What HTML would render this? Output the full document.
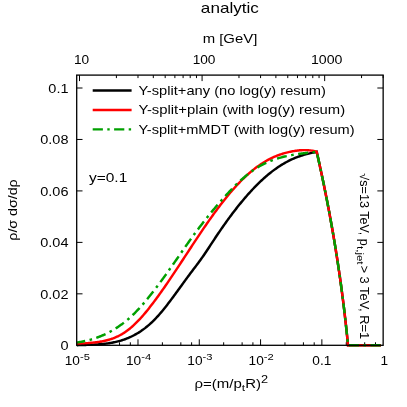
<!DOCTYPE html>
<html><head><meta charset="utf-8"><title>analytic</title>
<style>html,body{margin:0;padding:0;background:#fff;}svg{display:block;}</style>
</head><body>
<svg width="407" height="407" viewBox="0 0 407 407">
<rect x="0" y="0" width="407" height="407" fill="#fff"/>
<path d="M101.09,345.30 v-3 M119.54,345.30 v-3 M130.33,345.30 v-3 M137.99,345.30 v-6 M162.38,345.30 v-3 M180.83,345.30 v-3 M191.62,345.30 v-3 M199.28,345.30 v-6 M223.67,345.30 v-3 M242.12,345.30 v-3 M252.91,345.30 v-3 M260.57,345.30 v-6 M284.96,345.30 v-3 M303.41,345.30 v-3 M314.20,345.30 v-3 M321.86,345.30 v-6 M346.25,345.30 v-3 M364.70,345.30 v-3 M375.49,345.30 v-3 M79.50,75.10 v6 M202.08,75.10 v6 M324.66,75.10 v6 M116.40,75.10 v3 M137.99,75.10 v3 M153.30,75.10 v3 M165.18,75.10 v3 M174.89,75.10 v3 M183.10,75.10 v3 M190.21,75.10 v3 M196.48,75.10 v3 M238.98,75.10 v3 M260.57,75.10 v3 M275.88,75.10 v3 M287.76,75.10 v3 M297.47,75.10 v3 M305.68,75.10 v3 M312.79,75.10 v3 M319.06,75.10 v3 M361.56,75.10 v3 M383.15,75.10 v3 M76.70,293.84 h5.8 M383.15,293.84 h-5.8 M76.70,242.38 h5.8 M383.15,242.38 h-5.8 M76.70,190.92 h5.8 M383.15,190.92 h-5.8 M76.70,139.46 h5.8 M383.15,139.46 h-5.8 M76.70,88.00 h5.8 M383.15,88.00 h-5.8" stroke="#000" stroke-width="1" fill="none"/>
<g fill="none" stroke-linejoin="miter" stroke-miterlimit="10" stroke-linecap="butt" stroke-width="2.45">
<path d="M76.80,345.23 L77.80,345.19 L78.81,345.15 L79.81,345.11 L80.82,345.08 L81.82,345.04 L82.82,345.01 L83.83,344.98 L84.83,344.95 L85.83,344.92 L86.84,344.88 L87.84,344.85 L88.85,344.82 L89.85,344.78 L90.85,344.74 L91.86,344.70 L92.86,344.66 L93.86,344.61 L94.87,344.56 L95.87,344.50 L96.88,344.44 L97.88,344.38 L98.88,344.31 L99.89,344.23 L100.89,344.15 L101.89,344.06 L102.90,343.96 L103.90,343.86 L104.91,343.75 L105.91,343.63 L106.91,343.50 L107.92,343.36 L108.92,343.22 L109.92,343.06 L110.93,342.89 L111.93,342.71 L112.94,342.52 L113.94,342.32 L114.94,342.11 L115.95,341.88 L116.95,341.65 L117.95,341.40 L118.96,341.13 L119.96,340.85 L120.97,340.56 L121.97,340.25 L122.97,339.93 L123.98,339.59 L124.98,339.23 L125.98,338.86 L126.99,338.47 L127.99,338.06 L129.00,337.64 L130.00,337.20 L131.00,336.74 L132.01,336.26 L133.01,335.76 L134.01,335.24 L135.02,334.70 L136.02,334.14 L137.03,333.56 L138.03,332.96 L139.03,332.34 L140.04,331.69 L141.04,331.03 L142.04,330.33 L143.05,329.62 L144.05,328.88 L145.06,328.12 L146.06,327.33 L147.06,326.52 L148.07,325.68 L149.07,324.82 L150.07,323.93 L151.08,323.01 L152.08,322.06 L153.09,321.09 L154.09,320.09 L155.09,319.07 L156.10,318.01 L157.10,316.93 L158.11,315.82 L159.11,314.69 L160.11,313.54 L161.12,312.36 L162.12,311.17 L163.12,309.95 L164.13,308.72 L165.13,307.46 L166.14,306.20 L167.14,304.91 L168.14,303.61 L169.15,302.30 L170.15,300.98 L171.15,299.64 L172.16,298.30 L173.16,296.94 L174.17,295.58 L175.17,294.21 L176.17,292.84 L177.18,291.46 L178.18,290.07 L179.18,288.69 L180.19,287.30 L181.19,285.91 L182.20,284.53 L183.20,283.14 L184.20,281.76 L185.21,280.38 L186.21,279.01 L187.21,277.64 L188.22,276.28 L189.22,274.93 L190.23,273.59 L191.23,272.25 L192.23,270.93 L193.24,269.60 L194.24,268.28 L195.24,266.96 L196.25,265.63 L197.25,264.29 L198.26,262.95 L199.26,261.58 L200.26,260.21 L201.27,258.81 L202.27,257.39 L203.27,255.95 L204.28,254.49 L205.28,253.01 L206.29,251.51 L207.29,250.00 L208.29,248.48 L209.30,246.96 L210.30,245.43 L211.30,243.89 L212.31,242.36 L213.31,240.83 L214.32,239.31 L215.32,237.79 L216.32,236.28 L217.33,234.78 L218.33,233.30 L219.33,231.82 L220.34,230.35 L221.34,228.90 L222.35,227.45 L223.35,226.02 L224.35,224.59 L225.36,223.18 L226.36,221.78 L227.36,220.39 L228.37,219.00 L229.37,217.64 L230.38,216.28 L231.38,214.93 L232.38,213.60 L233.39,212.28 L234.39,210.97 L235.39,209.67 L236.40,208.38 L237.40,207.11 L238.41,205.84 L239.41,204.60 L240.41,203.36 L241.42,202.13 L242.42,200.92 L243.43,199.73 L244.43,198.54 L245.43,197.37 L246.44,196.21 L247.44,195.06 L248.44,193.93 L249.45,192.81 L250.45,191.71 L251.46,190.62 L252.46,189.54 L253.46,188.48 L254.47,187.43 L255.47,186.40 L256.47,185.38 L257.48,184.37 L258.48,183.38 L259.49,182.41 L260.49,181.45 L261.49,180.50 L262.50,179.57 L263.50,178.65 L264.50,177.75 L265.51,176.87 L266.51,176.00 L267.52,175.15 L268.52,174.31 L269.52,173.49 L270.53,172.68 L271.53,171.90 L272.53,171.12 L273.54,170.37 L274.54,169.63 L275.55,168.90 L276.55,168.20 L277.55,167.51 L278.56,166.83 L279.56,166.18 L280.56,165.54 L281.57,164.91 L282.57,164.30 L283.58,163.71 L284.58,163.13 L285.58,162.56 L286.59,162.01 L287.59,161.47 L288.59,160.95 L289.60,160.44 L290.60,159.94 L291.61,159.46 L292.61,158.99 L293.61,158.54 L294.62,158.11 L295.62,157.70 L296.62,157.31 L297.63,156.93 L298.63,156.57 L299.64,156.22 L300.64,155.88 L301.64,155.56 L302.65,155.25 L303.65,154.95 L304.65,154.66 L305.66,154.39 L306.66,154.12 L307.67,153.86 L308.67,153.61 L309.67,153.37 L310.68,153.13 L311.68,152.90 L312.68,152.67 L313.69,152.45 L314.69,152.23 L315.70,152.01 L316.70,151.80 L317.44,155.08 L318.18,158.36 L318.91,161.64 L319.63,164.92 L320.35,168.20 L321.05,171.48 L321.75,174.76 L322.45,178.04 L323.13,181.32 L323.81,184.60 L324.48,187.88 L325.14,191.16 L325.80,194.44 L326.45,197.72 L327.09,200.99 L327.72,204.27 L328.35,207.55 L328.97,210.83 L329.58,214.11 L330.18,217.39 L330.78,220.67 L331.37,223.95 L331.95,227.23 L332.53,230.51 L333.09,233.79 L333.65,237.07 L334.21,240.35 L334.75,243.63 L335.29,246.91 L335.82,250.19 L336.34,253.47 L336.86,256.75 L337.37,260.03 L337.87,263.31 L338.36,266.59 L338.85,269.87 L339.33,273.15 L339.80,276.43 L340.26,279.71 L340.72,282.99 L341.17,286.27 L341.61,289.55 L342.05,292.83 L342.47,296.11 L342.89,299.38 L343.31,302.66 L343.71,305.94 L344.11,309.22 L344.50,312.50 L344.88,315.78 L345.26,319.06 L345.63,322.34 L345.99,325.62 L346.34,328.90 L346.69,332.18 L347.03,335.46 L347.36,338.74 L347.68,342.02 L348.00,345.30 L381.00,345.30" stroke="#000"/>
<path d="M76.80,344.13 L77.80,344.02 L78.81,343.91 L79.81,343.81 L80.82,343.72 L81.82,343.63 L82.82,343.54 L83.83,343.45 L84.83,343.37 L85.83,343.28 L86.84,343.20 L87.84,343.11 L88.85,343.02 L89.85,342.93 L90.85,342.84 L91.86,342.74 L92.86,342.64 L93.86,342.54 L94.87,342.42 L95.87,342.30 L96.88,342.17 L97.88,342.04 L98.88,341.89 L99.89,341.73 L100.89,341.56 L101.89,341.38 L102.90,341.19 L103.90,340.99 L104.91,340.77 L105.91,340.53 L106.91,340.28 L107.92,340.01 L108.92,339.73 L109.92,339.43 L110.93,339.11 L111.93,338.77 L112.94,338.41 L113.94,338.02 L114.94,337.62 L115.95,337.19 L116.95,336.74 L117.95,336.27 L118.96,335.77 L119.96,335.25 L120.97,334.70 L121.97,334.12 L122.97,333.51 L123.98,332.88 L124.98,332.21 L125.98,331.52 L126.99,330.79 L127.99,330.04 L129.00,329.25 L130.00,328.44 L131.00,327.60 L132.01,326.73 L133.01,325.83 L134.01,324.91 L135.02,323.96 L136.02,322.98 L137.03,321.98 L138.03,320.95 L139.03,319.90 L140.04,318.83 L141.04,317.73 L142.04,316.60 L143.05,315.46 L144.05,314.29 L145.06,313.10 L146.06,311.89 L147.06,310.66 L148.07,309.41 L149.07,308.15 L150.07,306.87 L151.08,305.58 L152.08,304.27 L153.09,302.95 L154.09,301.62 L155.09,300.27 L156.10,298.92 L157.10,297.55 L158.11,296.17 L159.11,294.78 L160.11,293.38 L161.12,291.97 L162.12,290.55 L163.12,289.13 L164.13,287.69 L165.13,286.24 L166.14,284.79 L167.14,283.33 L168.14,281.86 L169.15,280.38 L170.15,278.90 L171.15,277.41 L172.16,275.92 L173.16,274.42 L174.17,272.92 L175.17,271.41 L176.17,269.89 L177.18,268.38 L178.18,266.86 L179.18,265.33 L180.19,263.81 L181.19,262.28 L182.20,260.75 L183.20,259.22 L184.20,257.69 L185.21,256.15 L186.21,254.62 L187.21,253.09 L188.22,251.56 L189.22,250.02 L190.23,248.49 L191.23,246.96 L192.23,245.44 L193.24,243.91 L194.24,242.39 L195.24,240.87 L196.25,239.36 L197.25,237.85 L198.26,236.34 L199.26,234.84 L200.26,233.34 L201.27,231.85 L202.27,230.37 L203.27,228.89 L204.28,227.42 L205.28,225.95 L206.29,224.50 L207.29,223.05 L208.29,221.61 L209.30,220.17 L210.30,218.75 L211.30,217.34 L212.31,215.93 L213.31,214.54 L214.32,213.15 L215.32,211.78 L216.32,210.41 L217.33,209.06 L218.33,207.72 L219.33,206.39 L220.34,205.07 L221.34,203.76 L222.35,202.47 L223.35,201.19 L224.35,199.92 L225.36,198.66 L226.36,197.42 L227.36,196.18 L228.37,194.97 L229.37,193.76 L230.38,192.57 L231.38,191.40 L232.38,190.24 L233.39,189.09 L234.39,187.96 L235.39,186.85 L236.40,185.75 L237.40,184.66 L238.41,183.60 L239.41,182.55 L240.41,181.51 L241.42,180.49 L242.42,179.49 L243.43,178.51 L244.43,177.54 L245.43,176.59 L246.44,175.66 L247.44,174.75 L248.44,173.85 L249.45,172.98 L250.45,172.12 L251.46,171.28 L252.46,170.45 L253.46,169.65 L254.47,168.86 L255.47,168.09 L256.47,167.33 L257.48,166.60 L258.48,165.88 L259.49,165.18 L260.49,164.49 L261.49,163.83 L262.50,163.18 L263.50,162.54 L264.50,161.93 L265.51,161.33 L266.51,160.75 L267.52,160.19 L268.52,159.64 L269.52,159.11 L270.53,158.60 L271.53,158.10 L272.53,157.63 L273.54,157.16 L274.54,156.72 L275.55,156.29 L276.55,155.88 L277.55,155.48 L278.56,155.11 L279.56,154.74 L280.56,154.40 L281.57,154.07 L282.57,153.75 L283.58,153.45 L284.58,153.16 L285.58,152.89 L286.59,152.62 L287.59,152.38 L288.59,152.14 L289.60,151.92 L290.60,151.71 L291.61,151.50 L292.61,151.31 L293.61,151.14 L294.62,150.97 L295.62,150.81 L296.62,150.67 L297.63,150.54 L298.63,150.43 L299.64,150.33 L300.64,150.25 L301.64,150.19 L302.65,150.14 L303.65,150.11 L304.65,150.11 L305.66,150.12 L306.66,150.15 L307.67,150.20 L308.67,150.28 L309.67,150.38 L310.68,150.51 L311.68,150.65 L312.68,150.83 L313.69,151.03 L314.69,151.26 L315.70,151.51 L316.70,151.80 L317.44,155.08 L318.18,158.36 L318.91,161.64 L319.63,164.92 L320.35,168.20 L321.05,171.48 L321.75,174.76 L322.45,178.04 L323.13,181.32 L323.81,184.60 L324.48,187.88 L325.14,191.16 L325.80,194.44 L326.45,197.72 L327.09,200.99 L327.72,204.27 L328.35,207.55 L328.97,210.83 L329.58,214.11 L330.18,217.39 L330.78,220.67 L331.37,223.95 L331.95,227.23 L332.53,230.51 L333.09,233.79 L333.65,237.07 L334.21,240.35 L334.75,243.63 L335.29,246.91 L335.82,250.19 L336.34,253.47 L336.86,256.75 L337.37,260.03 L337.87,263.31 L338.36,266.59 L338.85,269.87 L339.33,273.15 L339.80,276.43 L340.26,279.71 L340.72,282.99 L341.17,286.27 L341.61,289.55 L342.05,292.83 L342.47,296.11 L342.89,299.38 L343.31,302.66 L343.71,305.94 L344.11,309.22 L344.50,312.50 L344.88,315.78 L345.26,319.06 L345.63,322.34 L345.99,325.62 L346.34,328.90 L346.69,332.18 L347.03,335.46 L347.36,338.74 L347.68,342.02 L348.00,345.30 L381.00,345.30" stroke="#ff0000"/>
<path d="M76.80,342.49 L77.80,342.34 L78.81,342.19 L79.81,342.03 L80.82,341.85 L81.82,341.67 L82.82,341.48 L83.83,341.28 L84.83,341.06 L85.83,340.84 L86.84,340.61 L87.84,340.36 L88.85,340.11 L89.85,339.84 L90.85,339.56 L91.86,339.27 L92.86,338.97 L93.86,338.65 L94.87,338.33 L95.87,337.99 L96.88,337.64 L97.88,337.27 L98.88,336.89 L99.89,336.50 L100.89,336.10 L101.89,335.68 L102.90,335.25 L103.90,334.80 L104.91,334.34 L105.91,333.87 L106.91,333.38 L107.92,332.87 L108.92,332.35 L109.92,331.82 L110.93,331.27 L111.93,330.70 L112.94,330.12 L113.94,329.52 L114.94,328.91 L115.95,328.28 L116.95,327.63 L117.95,326.97 L118.96,326.29 L119.96,325.59 L120.97,324.87 L121.97,324.14 L122.97,323.39 L123.98,322.61 L124.98,321.82 L125.98,321.01 L126.99,320.18 L127.99,319.33 L129.00,318.46 L130.00,317.56 L131.00,316.65 L132.01,315.71 L133.01,314.75 L134.01,313.77 L135.02,312.77 L136.02,311.75 L137.03,310.71 L138.03,309.65 L139.03,308.57 L140.04,307.47 L141.04,306.35 L142.04,305.22 L143.05,304.07 L144.05,302.90 L145.06,301.72 L146.06,300.52 L147.06,299.31 L148.07,298.09 L149.07,296.85 L150.07,295.60 L151.08,294.33 L152.08,293.06 L153.09,291.77 L154.09,290.47 L155.09,289.16 L156.10,287.84 L157.10,286.52 L158.11,285.18 L159.11,283.83 L160.11,282.48 L161.12,281.12 L162.12,279.75 L163.12,278.37 L164.13,276.99 L165.13,275.60 L166.14,274.20 L167.14,272.80 L168.14,271.39 L169.15,269.98 L170.15,268.56 L171.15,267.14 L172.16,265.71 L173.16,264.28 L174.17,262.84 L175.17,261.41 L176.17,259.97 L177.18,258.52 L178.18,257.08 L179.18,255.63 L180.19,254.19 L181.19,252.74 L182.20,251.30 L183.20,249.86 L184.20,248.42 L185.21,246.99 L186.21,245.55 L187.21,244.13 L188.22,242.71 L189.22,241.29 L190.23,239.88 L191.23,238.48 L192.23,237.08 L193.24,235.70 L194.24,234.32 L195.24,232.95 L196.25,231.60 L197.25,230.25 L198.26,228.91 L199.26,227.58 L200.26,226.26 L201.27,224.95 L202.27,223.65 L203.27,222.35 L204.28,221.07 L205.28,219.79 L206.29,218.53 L207.29,217.27 L208.29,216.02 L209.30,214.78 L210.30,213.54 L211.30,212.32 L212.31,211.10 L213.31,209.89 L214.32,208.69 L215.32,207.50 L216.32,206.32 L217.33,205.14 L218.33,203.97 L219.33,202.81 L220.34,201.66 L221.34,200.51 L222.35,199.37 L223.35,198.24 L224.35,197.12 L225.36,196.01 L226.36,194.90 L227.36,193.81 L228.37,192.73 L229.37,191.65 L230.38,190.59 L231.38,189.54 L232.38,188.50 L233.39,187.47 L234.39,186.46 L235.39,185.46 L236.40,184.47 L237.40,183.49 L238.41,182.53 L239.41,181.59 L240.41,180.66 L241.42,179.74 L242.42,178.84 L243.43,177.96 L244.43,177.09 L245.43,176.24 L246.44,175.41 L247.44,174.59 L248.44,173.80 L249.45,173.02 L250.45,172.26 L251.46,171.52 L252.46,170.80 L253.46,170.10 L254.47,169.42 L255.47,168.76 L256.47,168.12 L257.48,167.50 L258.48,166.89 L259.49,166.31 L260.49,165.74 L261.49,165.19 L262.50,164.66 L263.50,164.14 L264.50,163.64 L265.51,163.16 L266.51,162.69 L267.52,162.23 L268.52,161.80 L269.52,161.37 L270.53,160.96 L271.53,160.57 L272.53,160.19 L273.54,159.82 L274.54,159.46 L275.55,159.12 L276.55,158.79 L277.55,158.47 L278.56,158.17 L279.56,157.87 L280.56,157.59 L281.57,157.32 L282.57,157.05 L283.58,156.80 L284.58,156.56 L285.58,156.32 L286.59,156.10 L287.59,155.88 L288.59,155.67 L289.60,155.47 L290.60,155.28 L291.61,155.09 L292.61,154.91 L293.61,154.74 L294.62,154.58 L295.62,154.42 L296.62,154.26 L297.63,154.11 L298.63,153.97 L299.64,153.83 L300.64,153.69 L301.64,153.56 L302.65,153.43 L303.65,153.30 L304.65,153.18 L305.66,153.06 L306.66,152.94 L307.67,152.83 L308.67,152.71 L309.67,152.60 L310.68,152.49 L311.68,152.37 L312.68,152.26 L313.69,152.15 L314.69,152.04 L315.70,151.92 L316.70,151.80 L317.44,155.08 L318.18,158.36 L318.91,161.64 L319.63,164.92 L320.35,168.20 L321.05,171.48 L321.75,174.76 L322.45,178.04 L323.13,181.32 L323.81,184.60 L324.48,187.88 L325.14,191.16 L325.80,194.44 L326.45,197.72 L327.09,200.99 L327.72,204.27 L328.35,207.55 L328.97,210.83 L329.58,214.11 L330.18,217.39 L330.78,220.67 L331.37,223.95 L331.95,227.23 L332.53,230.51 L333.09,233.79 L333.65,237.07 L334.21,240.35 L334.75,243.63 L335.29,246.91 L335.82,250.19 L336.34,253.47 L336.86,256.75 L337.37,260.03 L337.87,263.31 L338.36,266.59 L338.85,269.87 L339.33,273.15 L339.80,276.43 L340.26,279.71 L340.72,282.99 L341.17,286.27 L341.61,289.55 L342.05,292.83 L342.47,296.11 L342.89,299.38 L343.31,302.66 L343.71,305.94 L344.11,309.22 L344.50,312.50 L344.88,315.78 L345.26,319.06 L345.63,322.34 L345.99,325.62 L346.34,328.90 L346.69,332.18 L347.03,335.46 L347.36,338.74 L347.68,342.02 L348.00,345.30 L381.00,345.30" stroke="#00a000" stroke-dasharray="10 4.5 2.6 4.48" stroke-dashoffset="1.50"/>
<path d="M92.7,90.5 H131.6" stroke="#000"/>
<path d="M92.7,109.9 H131.6" stroke="#ff0000"/>
<path d="M92.7,129.35 H131.6" stroke="#00a000" stroke-dasharray="10.2 4.4 2.4 4.4"/>
</g>
<rect x="76.70" y="75.10" width="306.45" height="270.20" fill="none" stroke="#000" stroke-width="1.3"/>
<g font-family="'Liberation Sans', sans-serif" fill="#000" opacity="0.999">
<text transform="translate(229.90,12.80) scale(1.1900,1)" text-anchor="middle" font-size="14.4px">analytic</text>
<text transform="translate(230.00,43.00) scale(1.2450,1)" text-anchor="middle" font-size="12px">m [GeV]</text>
<text transform="translate(81.50,64.40) scale(1.1400,1)" text-anchor="middle" font-size="12px">10</text>
<text transform="translate(204.08,64.40) scale(1.1400,1)" text-anchor="middle" font-size="12px">100</text>
<text transform="translate(326.66,64.40) scale(1.1800,1)" text-anchor="middle" font-size="12px">1000</text>
<text transform="translate(68.50,350.30) scale(1.2100,1)" text-anchor="end" font-size="12px">0</text>
<text transform="translate(68.50,298.84) scale(1.2100,1)" text-anchor="end" font-size="12px">0.02</text>
<text transform="translate(68.50,247.38) scale(1.2100,1)" text-anchor="end" font-size="12px">0.04</text>
<text transform="translate(68.50,195.92) scale(1.2100,1)" text-anchor="end" font-size="12px">0.06</text>
<text transform="translate(68.50,144.46) scale(1.2100,1)" text-anchor="end" font-size="12px">0.08</text>
<text transform="translate(68.50,93.00) scale(1.2100,1)" text-anchor="end" font-size="12px">0.1</text>
<text transform="translate(138.40,95.00) scale(1.2240,1)" text-anchor="start" font-size="12px">Y-split+any (no log(y) resum)</text>
<text transform="translate(138.40,114.20) scale(1.2370,1)" text-anchor="start" font-size="12px">Y-split+plain (with log(y) resum)</text>
<text transform="translate(138.40,133.50) scale(1.2180,1)" text-anchor="start" font-size="12px">Y-split+mMDT (with log(y) resum)</text>
<text transform="translate(89.00,182.00) scale(1.2900,1)" text-anchor="start" font-size="12px">y=0.1</text>
<text transform="translate(17.00,210.00) rotate(-90) scale(1.1860,1)" text-anchor="middle" font-size="12px">ρ/σ dσ/dρ</text>
<text transform="translate(360.20,173.30) rotate(90) scale(1.0520,1)" text-anchor="start" font-size="12px">√s=13 TeV, p</text>
<text transform="translate(357.10,246.00) rotate(90) scale(1.2000,1)" text-anchor="start" font-size="9.6px">t,jet</text>
<text transform="translate(360.20,265.40) rotate(90) scale(1.0760,1)" text-anchor="start" font-size="12px">&gt; 3 TeV, R=1</text>
<text transform="translate(64.70,365.10) scale(1.1400,1)" text-anchor="start" font-size="12px">10<tspan font-size="9.8px" dy="-4.7">-5</tspan></text>
<text transform="translate(125.99,365.10) scale(1.1400,1)" text-anchor="start" font-size="12px">10<tspan font-size="9.8px" dy="-4.7">-4</tspan></text>
<text transform="translate(187.28,365.10) scale(1.1400,1)" text-anchor="start" font-size="12px">10<tspan font-size="9.8px" dy="-4.7">-3</tspan></text>
<text transform="translate(248.57,365.10) scale(1.1400,1)" text-anchor="start" font-size="12px">10<tspan font-size="9.8px" dy="-4.7">-2</tspan></text>
<text transform="translate(321.86,365.10) scale(1.1400,1)" text-anchor="middle" font-size="12px">0.1</text>
<text transform="translate(384.35,365.10) scale(1.1400,1)" text-anchor="middle" font-size="12px">1</text>
<text transform="translate(194.50,388.00) scale(1.2500,1)" text-anchor="start" font-size="12px">ρ=(m/p<tspan font-size="9.6px" dy="3">t</tspan><tspan dy="-3">R)</tspan><tspan font-size="10.2px" dy="-4.7">2</tspan></text>
</g>
</svg>
</body></html>
